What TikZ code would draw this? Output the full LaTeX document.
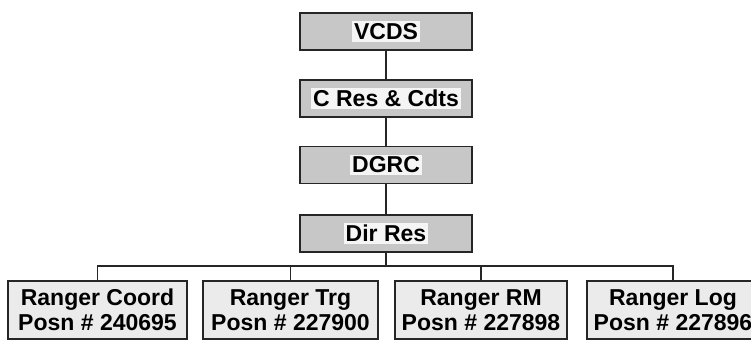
\documentclass[tikz,border=0pt]{standalone}
\usepackage{fontspec}
\setmainfont{Liberation Sans}
\begin{document}
\begin{tikzpicture}[x=1pt,y=-1pt,
  topbox/.style={draw=black!85, line width=1.4pt, fill=black!22, minimum width=172pt, minimum height=37pt, inner sep=0pt},
  botbox/.style={draw=black!85, line width=1.4pt, fill=black!8, minimum height=58pt, inner sep=0pt},
  toptext/.style={fill=black!4, inner sep=2pt, font=\fontsize{23}{26}\selectfont\bfseries},
  bottext/.style={align=center, inner sep=0pt, font=\fontsize{23}{24.5}\selectfont\bfseries},
  link/.style={draw=black!85, line width=1.5pt}]
\useasboundingbox (0,0) rectangle (751,341);
\fill[white] (0,0) rectangle (751,341);
\node[topbox] (vcds) at (386,31.5) {};
\node[toptext] (vcdst) at (vcds) {VCDS};
\node[topbox] (cres) at (386,98.5) {};
\node[toptext] (crest) at (cres) {C Res \& Cdts};
\node[topbox] (dgrc) at (386,165) {};
\node[toptext] (dgrct) at (dgrc) {DGRC};
\node[topbox] (dir) at (386,233.5) {};
\node[toptext] (dirt) at (dir) {Dir Res};
\node[botbox, minimum width=179pt] (c1) at (97.5,310) {};
\node[bottext] (c1t) at (c1) {Ranger Coord\\Posn \# 240695};
\node[botbox, minimum width=175pt] (c2) at (290.5,310) {};
\node[bottext] (c2t) at (c2) {Ranger Trg\\Posn \# 227900};
\node[botbox, minimum width=172pt] (c3) at (481,310) {};
\node[bottext] (c3t) at (c3) {Ranger RM\\Posn \# 227898};
\node[botbox, minimum width=172pt] (c4) at (673,310) {};
\node[bottext] (c4t) at (c4) {Ranger Log\\Posn \# 227896};
\coordinate (bus) at (386,266);
\path[link] (vcds.south) -- (cres.north);
\path[link] (cres.south) -- (dgrc.north);
\path[link] (dgrc.south) -- (dir.north);
\path[link] (dir.south) -- (bus);
\path[link] (c1.north) |- (bus) -| (c4.north);
\path[link] (c2.north) -- (c2.north |- bus);
\path[link] (c3.north) -- (c3.north |- bus);
\end{tikzpicture}
\end{document}
